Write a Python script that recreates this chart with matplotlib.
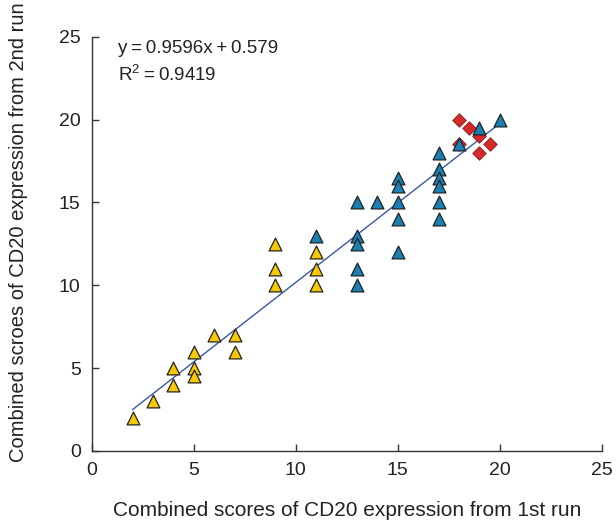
import numpy as np
import matplotlib.pyplot as plt

plt.rcParams['font.family'] = ['Liberation Sans', 'DejaVu Sans']
plt.rcParams['mathtext.fontset'] = 'custom'
plt.rcParams['mathtext.rm'] = 'Liberation Sans'

# Data
yellow_x = [2, 3, 4, 4, 5, 5, 5, 6, 7, 7, 9, 9, 9, 11, 11, 11]
yellow_y = [2, 3, 5, 4, 6, 5, 4.5, 7, 7, 6, 12.5, 11, 10, 12, 11, 10]

blue_x = [11, 13, 13, 13, 13, 13, 14, 15, 15, 15, 15, 15,
          17, 17, 17, 17, 17, 17, 18, 19, 20]
blue_y = [13, 15, 13, 12.5, 11, 10, 15, 16.5, 16, 15, 14, 12,
          18, 17, 16.5, 16, 15, 14, 18.5, 19.5, 20]

red_x = [18, 18.5, 19, 19.5, 19, 18]
red_y = [20, 19.5, 19, 18.5, 18, 18.5]

slope, intercept = 0.9596, 0.579
r2 = 0.9419
fit_x = np.array([2, 20])

fig = plt.figure(figsize=(6.16, 5.25), dpi=100)
ax = fig.add_axes([0.149, 0.141, 0.828, 0.789])

ax.plot(fit_x, slope * fit_x + intercept, color='#3a57a8', lw=1.0, zorder=2)
ax.scatter(yellow_x, yellow_y, marker='^', s=85, color='#f5c800',
           edgecolor='#222222', linewidth=0.9, zorder=3)
ax.scatter(red_x, red_y, marker='D', s=48, color='#d42a2a',
           edgecolor='#7a1010', linewidth=0.5, zorder=3)
ax.scatter(blue_x, blue_y, marker='^', s=85, color='#1a7fb2',
           edgecolor='#222222', linewidth=0.9, zorder=4)

ax.set_xlim(0, 25)
ax.set_ylim(0, 25)
ax.set_xticks(range(0, 26, 5))
ax.set_yticks(range(0, 26, 5))
ax.spines['top'].set_visible(False)
ax.spines['right'].set_visible(False)
for s in ['left', 'bottom']:
    ax.spines[s].set_color('#333333')
    ax.spines[s].set_linewidth(1.0)
ax.tick_params(direction='in', length=5, width=1, color='#333333',
               labelsize=14, pad=8, labelcolor='#222222')

ths = '\u2009'
ax.text(1.3, 24.3, f'y{ths}={ths}{slope}x{ths}+{ths}{intercept}', fontsize=13.5,
        va='center', color='#222222')
ax.text(1.3, 22.7, r'R$^{\mathrm{2}}$' + f'{ths}={ths}{r2}', fontsize=13.5,
        va='center', color='#222222')

ax.set_xlabel('Combined scores of CD20 expression from 1st run', fontsize=15,
              labelpad=16, color='#222222')
ax.set_ylabel('Combined scroes of CD20 expression from 2nd run', fontsize=14.5,
              color='#222222')
ax.yaxis.set_label_coords(-0.125, 0.527)

fig.savefig('out.png', dpi=100)
